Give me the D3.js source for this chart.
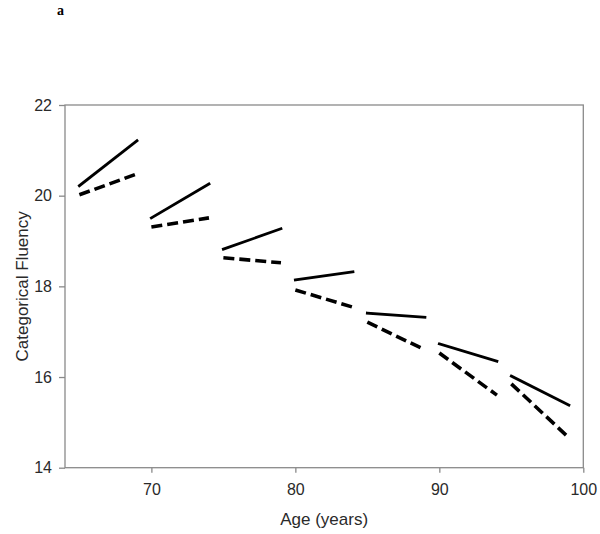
<!DOCTYPE html>
<html>
<head>
<meta charset="utf-8">
<script src="https://cdn.jsdelivr.net/npm/d3@7"></script>
<style>
  html, body { margin: 0; padding: 0; background: #fff; }
  svg { display: block; }
</style>
</head>
<body>
<svg id="chart" width="600" height="534"></svg>
<script>
// Age intervals (start, end) for each segment
const segStart = [65, 70, 75, 80, 85, 90, 95];
const segEnd   = [69, 74, 79, 84, 89, 94, 99];
// Solid line series: values at start and end of each interval
const solidStart = [20.22, 19.51, 18.82, 18.14, 17.41, 16.73, 16.02];
const solidEnd   = [21.21, 20.26, 19.27, 18.32, 17.32, 16.35, 15.38];
// Dashed line series
const dashStart  = [20.02, 19.31, 18.63, 17.92, 17.21, 16.53, 15.85];
const dashEnd    = [20.48, 19.51, 18.52, 17.54, 16.60, 15.60, 14.66];
const xTicks = [70, 80, 90, 100];
const yTicks = [14, 16, 18, 20, 22];

(function () {
const svg = d3.select("#chart");
const mL = 65, mR = 583.3, mT = 105, mB = 467.7;
const x = d3.scaleLinear().domain([64, 100]).range([mL, mR]);
const y = d3.scaleLinear().domain([14, 22]).range([mB, mT]);

const axisColor = "#8a8a8a";
const textColor = "#2a2a2a";
const font = "'Liberation Sans', Arial, sans-serif";

// Frame
svg.append("rect")
  .attr("x", mL).attr("y", mT)
  .attr("width", mR - mL).attr("height", mB - mT)
  .attr("fill", "none").attr("stroke", axisColor).attr("stroke-width", 1.3);

// Y axis
const yAxis = svg.append("g").attr("transform", `translate(${mL},0)`)
  .call(d3.axisLeft(y).tickValues(yTicks).tickSize(6).tickPadding(7).tickFormat(d3.format("d")));
yAxis.select(".domain").remove();
yAxis.selectAll(".tick line").attr("stroke", axisColor).attr("stroke-width", 1.3);
yAxis.selectAll(".tick text").attr("fill", textColor).style("font-family", font).style("font-size", "16px");

// X axis
const xAxis = svg.append("g").attr("transform", `translate(0,${mB})`)
  .call(d3.axisBottom(x).tickValues(xTicks).tickSize(5).tickPadding(11).tickFormat(d3.format("d")));
xAxis.select(".domain").remove();
xAxis.selectAll(".tick line").attr("stroke", axisColor).attr("stroke-width", 1.3);
xAxis.selectAll(".tick text").attr("fill", textColor).style("font-family", font).style("font-size", "16px");

// Segments
const solidData = segStart.map((s, i) => [[s, solidStart[i]], [segEnd[i], solidEnd[i]]]);
const dashData  = segStart.map((s, i) => [[s, dashStart[i]], [segEnd[i], dashEnd[i]]]);
const line = d3.line().x(d => x(d[0])).y(d => y(d[1]));

svg.append("g").selectAll("path").data(solidData).join("path")
  .attr("d", line).attr("fill", "none").attr("stroke", "#000")
  .attr("stroke-width", 2.8).attr("stroke-linecap", "square");

svg.append("g").selectAll("path").data(dashData).join("path")
  .attr("d", line).attr("fill", "none").attr("stroke", "#000")
  .attr("stroke-width", 3.6).attr("stroke-dasharray", "11,5").attr("stroke-linecap", "butt");

// Axis titles
svg.append("text")
  .attr("x", (mL + mR) / 2).attr("y", 525)
  .attr("text-anchor", "middle").attr("fill", textColor)
  .style("font-family", font).style("font-size", "17px")
  .text("Age (years)");

svg.append("text")
  .attr("transform", `translate(28,${(mT + mB) / 2}) rotate(-90)`)
  .attr("text-anchor", "middle").attr("fill", textColor)
  .style("font-family", font).style("font-size", "17px")
  .text("Categorical Fluency");

// Panel label
svg.append("text")
  .attr("x", 57).attr("y", 15)
  .attr("fill", "#000")
  .style("font-family", "'Liberation Serif', 'Times New Roman', serif")
  .style("font-size", "14px").style("font-weight", "bold")
  .text("a");
})();
</script>
</body>
</html>
